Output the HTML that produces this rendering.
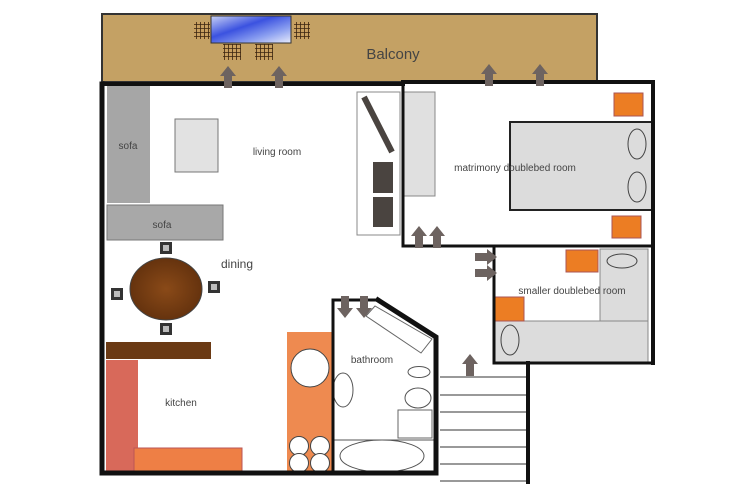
<!DOCTYPE html>
<html><head><meta charset="utf-8"><style>
html,body{margin:0;padding:0;background:#fff;}
svg{display:block;}
text{font-family:"Liberation Sans",sans-serif;fill:#444;}
</style></head><body>
<svg width="750" height="500" viewBox="0 0 750 500" xmlns="http://www.w3.org/2000/svg">
<defs>
<pattern id="grid" width="4" height="4" patternUnits="userSpaceOnUse"><rect width="4" height="4" fill="#c9a060"/><path d="M0 0H4M0 0V4" stroke="#3a2410" stroke-width="1.6"/></pattern>
<linearGradient id="sky" x1="0" y1="0" x2="1" y2="1"><stop offset="0" stop-color="#c9d2f5"/><stop offset="0.4" stop-color="#3b52e0"/><stop offset="0.7" stop-color="#8a9ef0"/><stop offset="1" stop-color="#e8ecfb"/></linearGradient>
<radialGradient id="wood" cx="0.5" cy="0.5" r="0.6"><stop offset="0" stop-color="#8a4a18"/><stop offset="1" stop-color="#5e2e0c"/></radialGradient>
<g id="up"><path d="M-4 0V-12H-8L0-22L8-12H4V0Z" fill="#6d6360"/></g>
<g id="chair"><rect x="-6" y="-6" width="12" height="12" fill="#333"/><rect x="-3" y="-3" width="6" height="6" fill="#bbb"/></g>
</defs>
<rect x="102" y="14" width="495" height="68" fill="#c4a164" stroke="#333" stroke-width="2"/>
<rect x="211" y="16" width="80" height="27" fill="url(#sky)" stroke="#333"/>
<rect x="194" y="22" width="16" height="17" fill="url(#grid)"/>
<rect x="294" y="22" width="16" height="17" fill="url(#grid)"/>
<rect x="223" y="44" width="18" height="16" fill="url(#grid)"/>
<rect x="255" y="44" width="18" height="16" fill="url(#grid)"/>
<text x="393" y="59" font-size="15" fill="#333" text-anchor="middle">Balcony</text>
<rect x="107" y="86" width="43" height="117" fill="#a6a6a6"/>
<rect x="107" y="205" width="116" height="35" fill="#a8a8a8" stroke="#777"/>
<text x="128" y="149" font-size="10" text-anchor="middle">sofa</text>
<text x="162" y="228" font-size="10" text-anchor="middle">sofa</text>
<rect x="175" y="119" width="43" height="53" fill="#e2e2e2" stroke="#777"/>
<text x="277" y="155" font-size="10" text-anchor="middle">living room</text>
<rect x="357" y="92" width="43" height="143" fill="#fff" stroke="#888"/>
<line x1="364" y1="97" x2="392" y2="152" stroke="#4a4440" stroke-width="6"/>
<rect x="373" y="162" width="20" height="31" fill="#4a4440"/>
<rect x="373" y="197" width="20" height="30" fill="#4a4440"/>
<ellipse cx="166" cy="289" rx="36" ry="31" fill="url(#wood)" stroke="#444"/>
<use href="#chair" x="166" y="248"/><use href="#chair" x="117" y="294"/>
<use href="#chair" x="214" y="287"/><use href="#chair" x="166" y="329"/>
<text x="237" y="268" font-size="12" text-anchor="middle">dining</text>
<rect x="106" y="342" width="105" height="17" fill="#6b3a14"/>
<rect x="106" y="360" width="32" height="112" fill="#d8695a"/>
<rect x="134" y="448" width="108" height="24" fill="#ee7f45" stroke="#b55"/>
<text x="181" y="406" font-size="10" text-anchor="middle">kitchen</text>
<rect x="287" y="332" width="46" height="141" fill="#ee8a50"/>
<circle cx="310" cy="368" r="19" fill="#fff" stroke="#444"/>
<circle cx="299" cy="446" r="9.5" fill="#fff" stroke="#444"/><circle cx="320" cy="446" r="9.5" fill="#fff" stroke="#444"/>
<circle cx="299" cy="463" r="9.5" fill="#fff" stroke="#444"/><circle cx="320" cy="463" r="9.5" fill="#fff" stroke="#444"/>
<polygon points="366,316 375,306 432,339 421,353" fill="#fff" stroke="#666"/>
<text x="372" y="363" font-size="10" text-anchor="middle">bathroom</text>
<ellipse cx="419" cy="372" rx="11" ry="5.5" fill="#fff" stroke="#555"/>
<ellipse cx="343" cy="390" rx="10" ry="17" fill="#fff" stroke="#555"/>
<ellipse cx="418" cy="398" rx="13" ry="10" fill="#fff" stroke="#555"/>
<rect x="398" y="410" width="34" height="28" fill="#fff" stroke="#666"/>
<line x1="333" y1="440" x2="435" y2="440" stroke="#555"/>
<ellipse cx="382" cy="456" rx="42" ry="16" fill="#fff" stroke="#555"/>
<g stroke="#999" stroke-width="2">
<line x1="440" y1="377" x2="526" y2="377"/><line x1="440" y1="395" x2="526" y2="395"/>
<line x1="440" y1="412" x2="526" y2="412"/><line x1="440" y1="430" x2="526" y2="430"/>
<line x1="440" y1="447" x2="526" y2="447"/><line x1="440" y1="464" x2="526" y2="464"/>
<line x1="440" y1="481" x2="526" y2="481"/></g>
<rect x="404" y="92" width="31" height="104" fill="#e0e0e0" stroke="#888"/>
<rect x="510" y="122" width="143" height="88" fill="#dcdcdc" stroke="#222" stroke-width="2"/>
<ellipse cx="637" cy="144" rx="9" ry="15" fill="none" stroke="#444"/>
<ellipse cx="637" cy="187" rx="9" ry="15" fill="none" stroke="#444"/>
<rect x="614" y="93" width="29" height="23" fill="#ec7d23" stroke="#a55"/>
<rect x="612" y="216" width="29" height="22" fill="#ec7d23" stroke="#a55"/>
<text x="515" y="171" font-size="10" text-anchor="middle">matrimony doublebed room</text>
<rect x="600" y="249" width="48" height="73" fill="#dcdcdc" stroke="#888"/>
<ellipse cx="622" cy="261" rx="15" ry="7" fill="none" stroke="#444"/>
<rect x="566" y="250" width="32" height="22" fill="#ec7d23" stroke="#a55"/>
<rect x="495" y="321" width="153" height="41" fill="#dcdcdc" stroke="#888"/>
<ellipse cx="510" cy="340" rx="9" ry="15" fill="none" stroke="#444"/>
<rect x="494" y="297" width="30" height="24" fill="#ec7d23" stroke="#a55"/>
<text x="572" y="294" font-size="10" text-anchor="middle">smaller doublebed room</text>
<g stroke="#111" fill="none" stroke-linecap="square">
<path d="M102 84V473H433" stroke-width="5"/>
<path d="M102 84H403" stroke-width="4"/>
<path d="M403 82H653V363" stroke-width="4"/>
<path d="M403 84V246H653" stroke-width="3"/>
<path d="M494 246V363H653" stroke-width="3"/>
<path d="M528 363V482" stroke-width="4"/>
<path d="M333 473V300H378L436 337V473" stroke-width="3"/>
<path d="M378 300L436 337V473" stroke-width="5"/>
</g>
<use href="#up" x="228" y="88"/><use href="#up" x="279" y="88"/>
<use href="#up" x="489" y="86"/><use href="#up" x="540" y="86"/>
<use href="#up" x="419" y="248"/><use href="#up" x="437" y="248"/>
<use href="#up" x="470" y="376"/>
<use href="#up" transform="translate(475 257) rotate(90)"/>
<use href="#up" transform="translate(475 273) rotate(90)"/>
<use href="#up" transform="translate(345 296) rotate(180)"/>
<use href="#up" transform="translate(364 296) rotate(180)"/>
</svg>
</body></html>
